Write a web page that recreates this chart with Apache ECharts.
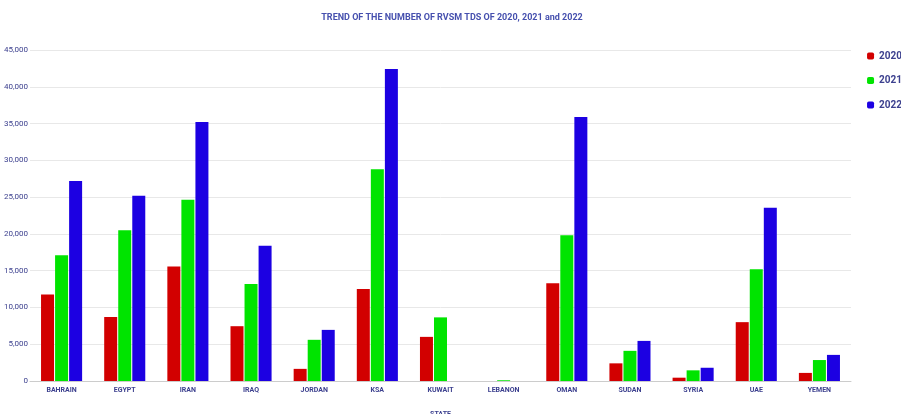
<!DOCTYPE html>
<html>
<head>
<meta charset="utf-8">
<script src="https://cdn.jsdelivr.net/npm/echarts@6/dist/echarts.min.js"></script>
<style>
  html, body { margin: 0; padding: 0; background: #ffffff; }
  #chart { width: 901px; height: 414px; }
</style>
</head>
<body>
<div id="chart"></div>
<script>
// Categories (states) and yearly RVSM TDS counts
const states = ['BAHRAIN', 'EGYPT', 'IRAN', 'IRAQ', 'JORDAN', 'KSA', 'KUWAIT', 'LEBANON', 'OMAN', 'SUDAN', 'SYRIA', 'UAE', 'YEMEN'];
const years = ['2020', '2021', '2022'];
const values2020 = [11750, 8700, 15550, 7450, 1650, 12500, 6000, 0, 13300, 2400, 450, 8000, 1100];
const values2021 = [17100, 20500, 24650, 13200, 5600, 28800, 8650, 100, 19800, 4100, 1450, 15200, 2850];
const values2022 = [27200, 25200, 35200, 18400, 6950, 42400, 0, 0, 35900, 5450, 1800, 23550, 3550];
const yTicks = { min: 0, max: 45000, interval: 5000 };

const colors = ['#d20000', '#00e400', '#1c00e2'];
const textColor = '#3d418f';

const chart = echarts.init(document.getElementById('chart'));

const seriesData = [values2020, values2021, values2022];

chart.setOption({
  animation: false,
  title: {
    text: 'TREND OF THE NUMBER OF RVSM TDS OF 2020, 2021 and 2022',
    left: 447,
    textAlign: 'center',
    top: 8,
    textStyle: { fontFamily: 'Roboto', fontSize: 9, fontWeight: 'bold', color: '#4650ae' }
  },
  legend: {
    orient: 'vertical',
    right: -3,
    top: 49,
    padding: 2,
    itemWidth: 7,
    itemHeight: 7,
    itemGap: 14.5,
    icon: 'roundRect',
    data: years,
    textStyle: { fontFamily: 'Roboto', fontSize: 10, fontWeight: 'bold', color: textColor }
  },
  grid: { left: 30, right: 50, top: 50, bottom: 33, outerBoundsMode: 'none' },
  xAxis: {
    type: 'category',
    data: states,
    name: 'STATE',
    nameLocation: 'middle',
    nameGap: 30,
    nameTextStyle: { fontFamily: 'Roboto', fontSize: 7, fontWeight: 'bold', color: textColor },
    axisLine: { lineStyle: { color: '#cccccc', width: 1 } },
    axisTick: { show: false },
    axisLabel: { fontFamily: 'Roboto', fontSize: 7, fontWeight: 'bold', color: textColor, margin: 6, interval: 0 }
  },
  yAxis: {
    type: 'value',
    min: yTicks.min,
    max: yTicks.max,
    interval: yTicks.interval,
    axisLine: { show: false },
    axisTick: { show: false },
    splitLine: { lineStyle: { color: '#e8e8e8', width: 1 } },
    axisLabel: {
      fontFamily: 'Roboto', fontSize: 8, color: textColor, margin: 2,
      formatter: v => v.toLocaleString('en-US')
    }
  },
  series: years.map((y, i) => ({
    name: y,
    type: 'bar',
    data: seriesData[i],
    barWidth: 13,
    barGap: '8%',
    itemStyle: { color: colors[i] }
  })),
  color: colors
});
</script>
</body>
</html>
